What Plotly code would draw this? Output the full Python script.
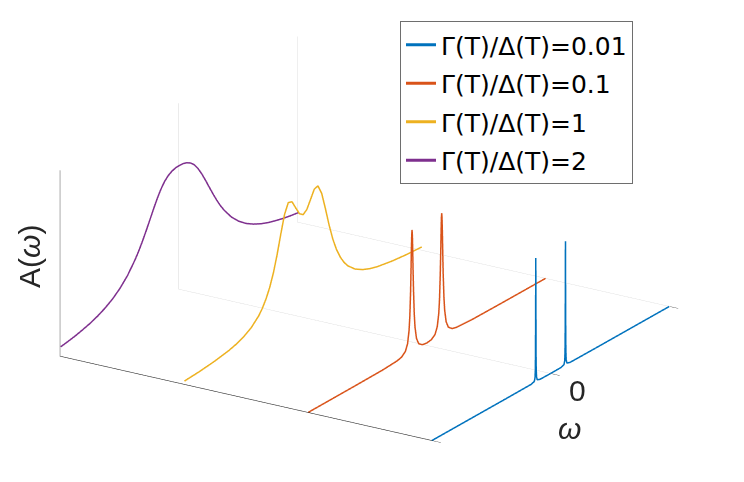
import plotly.graph_objects as go

# ---- data ----
omega_blue = [-8, -3, -1.3, -1.1, -1.05, -1.03, -1.02, -1.01, -1.005, -1.0, -0.995, -0.99, -0.98, -0.97, -0.95, -0.9, -0.7, 0,
              0.7, 0.9, 0.95, 0.97, 0.98, 0.99, 0.995, 1.0, 1.005, 1.01, 1.02, 1.03, 1.05, 1.1, 1.3, 3, 8]
A_blue = [0.0, 0.0, 0.001, 0.01, 0.038, 0.1, 0.2, 0.5, 0.8, 1.0, 0.8, 0.5, 0.2, 0.1, 0.038, 0.01, 0.001, 0.0002,
          0.001, 0.01, 0.038, 0.1, 0.2, 0.5, 0.8, 1.0, 0.8, 0.5, 0.2, 0.1, 0.038, 0.01, 0.001, 0.0, 0.0]

omega_red = [-8, -5, -3, -2, -1.7, -1.45, -1.3, -1.2, -1.15, -1.1, -1.07, -1.04, -1.02, -1.0, -0.98, -0.96, -0.93, -0.9,
             -0.85, -0.8, -0.7, -0.55, -0.3, 0, 0.3, 0.55, 0.7, 0.8, 0.85, 0.9, 0.93, 0.96, 0.98, 1.0, 1.02, 1.04, 1.07,
             1.1, 1.15, 1.2, 1.3, 1.45, 1.7, 2, 3, 5, 8]
A_red = [0.0003, 0.001, 0.003, 0.011, 0.021, 0.049, 0.102, 0.202, 0.31, 0.502, 0.673, 0.864, 0.964, 1.0, 0.964, 0.865,
         0.674, 0.503, 0.311, 0.203, 0.104, 0.051, 0.026, 0.02, 0.026, 0.051, 0.104, 0.203, 0.311, 0.503, 0.674, 0.865,
         0.964, 1.0, 0.964, 0.864, 0.673, 0.502, 0.31, 0.202, 0.102, 0.049, 0.021, 0.011, 0.003, 0.001, 0.0003]

omega_yellow = [-8, -7, -6, -5, -4.5, -4, -3.5, -3, -2.75, -2.5, -2.25, -2, -1.75, -1.5, -1.25, -1, -0.75, -0.5, -0.25,
                0, 0.25, 0.5, 0.75, 1, 1.25, 1.5, 1.75, 2, 2.25, 2.5, 2.75, 3, 3.5, 4, 4.5, 5, 6, 7, 8]
A_yellow = [0.027, 0.035, 0.049, 0.071, 0.089, 0.115, 0.153, 0.214, 0.259, 0.318, 0.395, 0.497, 0.627, 0.777, 0.917,
            0.994, 0.984, 0.918, 0.854, 0.829, 0.854, 0.918, 0.984, 0.994, 0.917, 0.777, 0.627, 0.497, 0.395, 0.318,
            0.259, 0.214, 0.153, 0.115, 0.089, 0.071, 0.049, 0.035, 0.027]

omega_purple = [-8, -7.5, -7, -6.5, -6, -5.5, -5, -4.5, -4, -3.5, -3, -2.75, -2.5, -2.25, -2, -1.75, -1.5, -1.25, -1,
                -0.75, -0.5, -0.25, 0, 0.25, 0.5, 0.75, 1, 1.25, 1.5, 1.75, 2, 2.25, 2.5, 2.75, 3, 3.5, 4, 4.5, 5,
                5.5, 6, 6.5, 7, 7.5, 8]
A_purple = [0.077, 0.087, 0.099, 0.115, 0.133, 0.157, 0.188, 0.227, 0.279, 0.347, 0.438, 0.492, 0.554, 0.621, 0.692,
            0.764, 0.832, 0.891, 0.938, 0.969, 0.988, 0.998, 1.0, 0.998, 0.988, 0.969, 0.938, 0.891, 0.832, 0.764,
            0.692, 0.621, 0.554, 0.492, 0.438, 0.347, 0.279, 0.227, 0.188, 0.157, 0.133, 0.115, 0.099, 0.087, 0.077]

curve_depth = [1, 2, 3, 4]
series_labels = ["Γ(T)/Δ(T)=0.01", "Γ(T)/Δ(T)=0.1", "Γ(T)/Δ(T)=1", "Γ(T)/Δ(T)=2"]
series_colors = ["#0072BD", "#D95319", "#EDB120", "#7E2F8E"]

x_ticks = [-8, 0, 8]
x_tick_text = "0"

omegas = [omega_blue, omega_red, omega_yellow, omega_purple]
amps = [A_blue, A_red, A_yellow, A_purple]

FONT = "Liberation Sans, Arial, sans-serif"
LEGFONT = "DejaVu Sans, sans-serif"

fig = go.Figure()
for om, a, d, lab, col in zip(omegas, amps, curve_depth, series_labels, series_colors):
    fig.add_trace(go.Scatter3d(
        x=om, y=[d] * len(om), z=a, mode="lines", name=lab,
        line=dict(color=col, width=3), legendgroup=lab, hoverinfo="skip"))

axis_common = dict(showbackground=False, showspikes=False, zeroline=False,
                   showticklabels=False, title=dict(text=""), autorange=False)

cam_dir = (-0.7888, -0.4998, 0.3579)
eye_len = 2.0
zoom = 1.86

fig.update_layout(
    width=744, height=482,
    margin=dict(l=0, r=0, t=0, b=0),
    paper_bgcolor="white",
    font=dict(family=FONT, color="#262626"),
    showlegend=True,
    legend=dict(x=400 / 744, y=1 - 21 / 482, xanchor="left", yanchor="top",
                font=dict(size=25, family=LEGFONT, color="#000000"),
                bordercolor="#6e6e6e", borderwidth=1, bgcolor="white",
                tracegroupgap=3, itemwidth=30),
    scene=dict(
        domain=dict(x=[0, 0.9812], y=[0.0104, 1.0]),
        xaxis=dict(range=[-8, 8], tickvals=x_ticks, showgrid=True, gridcolor="#d6d6d6", gridwidth=1,
                   showline=False, linecolor="#262626", linewidth=1.2,
                   ticks="outside", ticklen=10, tickcolor="#262626", **axis_common),
        yaxis=dict(range=[0.995, 4.005], showgrid=False, showline=True, linecolor="#262626", linewidth=1.2,
                   ticks="", **axis_common),
        zaxis=dict(range=[0, 1.5], showgrid=False, showline=True, linecolor="#808080", linewidth=1.5,
                   ticks="", **axis_common),
        aspectmode="manual",
        aspectratio=dict(x=1 * zoom, y=0.994 * zoom, z=0.4485 * zoom),
        camera=dict(eye=dict(x=cam_dir[0] * eye_len, y=cam_dir[1] * eye_len, z=cam_dir[2] * eye_len),
                    up=dict(x=0, y=0, z=1), center=dict(x=0, y=0, z=0),
                    projection=dict(type="orthographic")),
        annotations=[
            dict(x=0, y=curve_depth[0], z=0, text=x_tick_text, showarrow=False, xshift=27, yshift=-17,
                 font=dict(size=30, family=FONT, color="#262626")),
            dict(x=0, y=curve_depth[0], z=0, text="<i>ω</i>", showarrow=False, xshift=19, yshift=-55,
                 font=dict(size=30, family=FONT, color="#262626")),
        ],
    ),
    annotations=[
        dict(x=29 / 744, y=1 - 257 / 482, xref="paper", yref="paper", xanchor="center", yanchor="middle",
             text="A(<i>ω</i>)", showarrow=False, textangle=-90,
             font=dict(size=30, family=FONT, color="#262626")),
    ],
)

fig.write_html("out.html", config={"displayModeBar": False})
